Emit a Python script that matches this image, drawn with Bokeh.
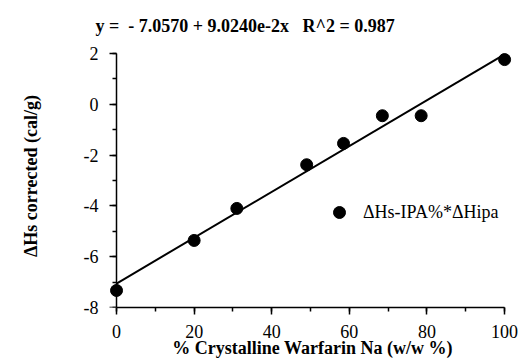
from bokeh.plotting import figure
from bokeh.models import Range1d, SingleIntervalTicker, Legend, LegendItem, LinearAxis
from bokeh.embed import file_html
from bokeh.resources import INLINE

# ---- data ----
crystalline_pct = [0, 20, 31, 49, 58.5, 68.5, 78.5, 100]
dhs_corrected = [-7.33, -5.36, -4.10, -2.38, -1.54, -0.45, -0.45, 1.76]
fit_intercept = -7.0570
fit_slope = 9.0240e-2
fit_x = [0, 100]
fit_y = [fit_intercept + fit_slope * v for v in fit_x]

x_tick_values = [0, 20, 40, 60, 80, 100]
y_tick_values = [-8, -6, -4, -2, 0, 2]
y_tick_labels = ["-8", "-6", "-4", "-2", "0", "2"]

title_text = "y =\u00a0 - 7.0570 + 9.0240e-2x \u00a0 R^2 = 0.987"
x_label = "% Crystalline Warfarin Na (w/w %)"
y_label = "\u0394Hs corrected (cal/g)"
series_label = "\u0394Hs-IPA%*\u0394Hipa"

FONT = "Liberation Serif"

p = figure(width=520, height=360, output_backend="svg", toolbar_location=None,
           x_range=Range1d(-3.1, 104.1), y_range=Range1d(-8, 2.354),
           min_border_left=104, min_border_right=0, min_border_top=44, min_border_bottom=52,
           title=title_text)
p.outline_line_color = None
p.grid.visible = False
p.background_fill_color = "white"
p.border_fill_color = "white"

p.title.text_font = FONT
p.title.text_font_size = "18px"
p.title.text_font_style = "bold"
p.title.align = "left"
p.title.offset = -9
p.title.standoff = 18
p.title.text_color = "black"


def style(ax):
    ax.axis_line_color = "black"
    ax.axis_line_width = 1.5
    ax.major_tick_line_color = "black"
    ax.major_tick_line_width = 1.5
    ax.minor_tick_line_color = "black"
    ax.minor_tick_line_width = 1.5
    ax.major_tick_in = 0
    ax.major_tick_out = 7
    ax.minor_tick_in = 0
    ax.minor_tick_out = 4
    ax.major_label_text_font = FONT
    ax.major_label_text_font_size = "18px"
    ax.major_label_text_color = "black"
    ax.axis_label_text_font = FONT
    ax.axis_label_text_font_size = "18px"
    ax.axis_label_text_font_style = "bold"
    ax.axis_label_text_color = "black"


# x axis (at frame bottom, y = -8)
xa = p.xaxis[0]
style(xa)
xa.ticker = SingleIntervalTicker(interval=20, num_minor_ticks=2)
xa.bounds = (0, 100)
xa.axis_label = x_label
xa.major_label_standoff = 10
xa.axis_label_standoff = -3

# y axis labels (side panel)
ya = p.yaxis[0]
style(ya)
ya.ticker = SingleIntervalTicker(interval=2, num_minor_ticks=2)
ya.bounds = (-8, 2)
ya.major_label_overrides = {v: s for v, s in zip(y_tick_values, y_tick_labels)}
ya.axis_line_color = None
ya.major_tick_line_color = None
ya.minor_tick_line_color = None
ya.major_tick_out = 0
ya.minor_tick_out = 0
ya.major_label_standoff = 6
ya.axis_label = y_label
ya.axis_label_standoff = 40

# y axis line and ticks, placed at x = 0
ya0 = LinearAxis(ticker=SingleIntervalTicker(interval=2, num_minor_ticks=2),
                 bounds=(-8, 2), fixed_location=0)
style(ya0)
ya0.major_label_text_font_size = "0px"
ya0.major_label_text_alpha = 0
ya0.major_label_standoff = 0
p.add_layout(ya0, "left")

# fit line and points
p.line(fit_x, fit_y, line_color="black", line_width=2)
pts = p.scatter(crystalline_pct, dhs_corrected, size=12, marker="circle",
                fill_color="black", line_color="black")

legend = Legend(items=[LegendItem(label=series_label, renderers=[pts])],
                location=(220, 80), padding=0, margin=0, spacing=0,
                glyph_width=30, glyph_height=30, label_standoff=9,
                border_line_color=None, background_fill_alpha=0,
                label_text_font=FONT, label_text_font_size="18px",
                label_text_color="black")
p.add_layout(legend)

open("out.html", "w").write(file_html(p, INLINE))
